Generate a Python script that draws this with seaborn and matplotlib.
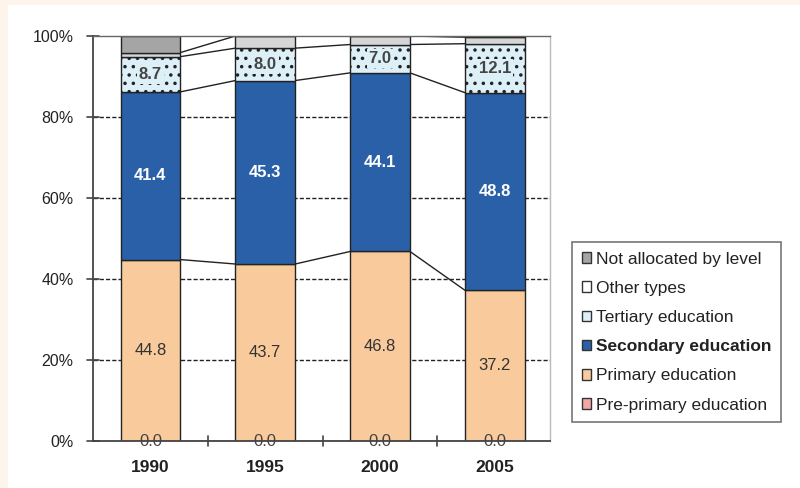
import matplotlib
matplotlib.use("Agg")
import matplotlib.pyplot as plt
import matplotlib.patches as mpatches
import seaborn as sns
import numpy as np
import pandas as pd

years = ["1990", "1995", "2000", "2005"]
series_names = ["Pre-primary education", "Primary education", "Secondary education",
                "Tertiary education", "Other types", "Not allocated by level"]
pre_primary = [0.0, 0.0, 0.0, 0.0]
primary = [44.8, 43.7, 46.8, 37.2]
secondary = [41.4, 45.3, 44.1, 48.8]
tertiary = [8.7, 8.0, 7.0, 12.1]
other_types = [1.0, 3.0, 2.1, 1.6]
not_allocated = [4.1, 0.0, 0.0, 0.3]
y_ticks = [0, 20, 40, 60, 80, 100]
y_tick_labels = ["0%", "20%", "40%", "60%", "80%", "100%"]

values = [pre_primary, primary, secondary, tertiary, other_types, not_allocated]
colors = ["#F2A7A7", "#F9CB9C", "#2A60A8", "#DDF0F7", "#D6D6D6", "#A5A5A5"]
hatches = [None, None, None, "..", None, None]

sns.set_theme(style="white")
plt.rcParams["font.family"] = ["Liberation Sans", "DejaVu Sans"]
plt.rcParams["hatch.color"] = "#333333"
plt.rcParams["hatch.linewidth"] = 1.3

fig = plt.figure(figsize=(8, 4.88), dpi=100)
fig.patch.set_facecolor("#FDF5EC")
fig.add_artist(mpatches.Rectangle((8 / 800, 0), 1, 1 - 5 / 488, transform=fig.transFigure,
                                  facecolor="white", edgecolor="none", zorder=-10))
ax = fig.add_axes([93 / 800, 1 - 441 / 488, (550 - 93) / 800, (441 - 36) / 488])
ax.set_facecolor("white")

width = 0.52
bottom = np.zeros(len(years))
tops = [bottom.copy()]
for name, vals, col, h in zip(series_names, values, colors, hatches):
    df = pd.DataFrame({"year": years, "val": vals})
    sns.barplot(data=df, x="year", y="val", ax=ax, color=col, width=width,
                bottom=bottom, edgecolor="#222222", linewidth=1.0, hatch=h,
                saturation=1, zorder=3, errorbar=None)
    bottom = bottom + np.array(vals)
    tops.append(bottom.copy())

# series lines
for t in tops[1:]:
    for i in range(len(years) - 1):
        if t[i] >= 99.9 and t[i + 1] >= 99.9:
            continue
        ax.plot([i + width / 2, i + 1 - width / 2], [t[i], t[i + 1]],
                color="#222222", lw=1.0, zorder=2)

# labels
label_specs = [(0, "#444444", "normal", None),
               (1, "#333333", "normal", None),
               (2, "white", "bold", None),
               (3, "#444444", "bold", "#DDF0F7")]
for idx, col, fw, bg in label_specs:
    vals = values[idx]
    for i, v in enumerate(vals):
        ypos = tops[idx][i] + v / 2
        kw = {}
        if bg is not None:
            kw["bbox"] = dict(facecolor=bg, edgecolor="none", pad=1.5)
        ax.text(i, ypos, f"{v:.1f}", ha="center", va="center", fontsize=12,
                color=col, fontweight=fw, zorder=5, **kw)

ax.set_xlim(-0.5, 3.48)
ax.set_ylim(0, 100)
ax.set_yticks(y_ticks)
ax.set_yticklabels(y_tick_labels, fontsize=11.5, color="#222222")
ax.set_xticks(range(len(years)))
ax.set_xticklabels(years, fontsize=12.5, fontweight="bold", color="#222222")
ax.tick_params(axis="x", length=0, pad=14)
ax.tick_params(axis="y", length=0, pad=14)
ax.set_xlabel("")
ax.set_ylabel("")
for yv in [20, 40, 60, 80]:
    ax.axhline(yv, color="#222222", lw=1.0, ls=(0, (3, 1.5)), zorder=1)
# y tick marks crossing axis
for yv in y_ticks:
    ax.plot([-0.55, -0.45], [yv, yv], color="#444444", lw=1.2, clip_on=False, zorder=4)
# x tick marks between categories
for xv in [0.5, 1.5, 2.5]:
    ax.plot([xv, xv], [-1.2, 1.2], color="#444444", lw=1.2, clip_on=False, zorder=4)

for side in ["left", "bottom"]:
    ax.spines[side].set_color("#444444")
    ax.spines[side].set_linewidth(1.3)
ax.spines["top"].set_color("#666666")
ax.spines["top"].set_linewidth(1.0)
ax.spines["right"].set_color("#BBBBBB")
ax.spines["right"].set_linewidth(1.0)
for s in ax.spines.values():
    s.set_zorder(4)

# legend
handles = []
legend_colors = ["#A5A5A5", "white", "#DDF0F7", "#2A60A8", "#F9CB9C", "#F2A7A7"]
legend_labels = series_names[::-1]
for col, lab in zip(legend_colors, legend_labels):
    handles.append(mpatches.Patch(facecolor=col, edgecolor="#333333", linewidth=1.0, label=lab))
leg = fig.legend(handles=handles, loc="upper left",
                 bbox_to_anchor=(572 / 800, 1 - 242 / 488), fontsize=12.5,
                 frameon=True, fancybox=False, edgecolor="#555555",
                 handlelength=0.55, handleheight=0.55, handletextpad=0.3,
                 labelspacing=0.82, borderpad=0.55, borderaxespad=0)
leg.get_frame().set_linewidth(1.2)
for txt in leg.get_texts():
    txt.set_color("#222222")
    if txt.get_text() == "Secondary education":
        txt.set_fontweight("bold")

fig.savefig("out.png", dpi=100, facecolor=fig.get_facecolor())
